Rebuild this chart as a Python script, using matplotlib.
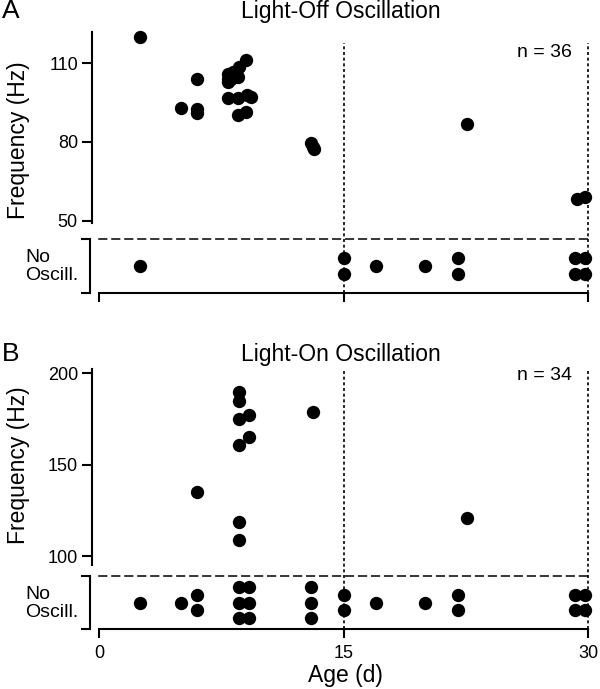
import matplotlib.pyplot as plt
from matplotlib.lines import Line2D
from matplotlib.transforms import blended_transform_factory
from collections import Counter

plt.rcParams['font.family'] = ['Liberation Sans', 'DejaVu Sans']

# Panel A - light-off oscillation (age in days, frequency in Hz)
off_age = [2.5, 5.0, 6.0, 6.0, 6.0,
           7.9, 7.9, 7.9, 8.1, 8.2, 8.5, 8.6, 9.0, 7.9, 8.5, 9.1, 9.3, 8.5, 9.0,
           13.0, 13.1, 13.2, 22.6, 29.3, 29.8]
off_freq = [120, 93, 104, 92.5, 91,
            106, 104, 102.7, 104, 106.5, 104.6, 108.5, 111, 96.6, 96.6, 97.8, 97, 90.2, 91.3,
            79.5, 78, 77.5, 87, 58.5, 59.2]
off_none = [2.5, 15, 15, 17, 20, 22, 22, 29.2, 29.2, 29.8, 29.8]

# Panel B - light-on oscillation
on_age = [6.0, 8.6, 8.6, 8.6, 8.6, 8.6, 8.6, 9.2, 9.2, 13.1, 22.6]
on_freq = [135, 189.6, 184.7, 175, 160.6, 118.6, 109, 177, 165, 178.7, 121]
on_none = [2.5, 5, 6, 6, 8.6, 8.6, 8.6, 9.2, 9.2, 9.2, 13, 13, 13, 15, 15, 17, 20, 22, 22,
           29.2, 29.2, 29.8, 29.8]

age_ticks = [0, 15, 30]
ref_ages = [15, 30]

W, H = 600, 689
fig = plt.figure(figsize=(W / 100, H / 100), dpi=100)


def px_axes(left, top, right, bottom):
    return fig.add_axes([left / W, 1 - bottom / H, (right - left) / W, (bottom - top) / H])


def fy(y):
    return 1 - y / H


def stack(ages, step=0.285):
    counts = Counter(ages)
    seen = Counter()
    ys = []
    for a in ages:
        n = counts[a]
        i = seen[a]
        seen[a] += 1
        ys.append(0.5 + ((n - 1) / 2 - i) * step)
    return ys


def panel(letter, title, n_text, ages, freqs, none_ages, up_box, low_box, ylim, yticks,
          vline_top, show_xlabels, title_y, n_y, ylab_y):
    ax_low = px_axes(*low_box)
    ax_up = px_axes(*up_box)
    for ax in (ax_low, ax_up):
        ax.patch.set_visible(False)
        ax.set_xlim(0, 30)
        ax.tick_params(width=1.5, labelsize=13, color='black')
    # frequency part
    ax_up.plot(ages, freqs, 'o', color='black', ms=9.6, mew=0, clip_on=False, zorder=5)
    ax_up.set_ylim(*ylim)
    ax_up.set_yticks(yticks)
    ax_up.tick_params(axis='y', length=7.2, pad=3)
    ax_up.set_xticks([])
    for s in ('top', 'right', 'bottom'):
        ax_up.spines[s].set_visible(False)
    ax_up.spines['left'].set_linewidth(1.5)
    ax_up.spines['left'].set_position(('outward', 5))

    # no-oscillation strip
    ax_low.plot(none_ages, stack(none_ages), 'o', color='black', ms=9.6, mew=0,
                clip_on=False, zorder=5)
    ax_low.set_ylim(0, 1)
    ax_low.set_yticks([0, 1])
    ax_low.set_yticklabels([])
    ax_low.tick_params(axis='y', length=6.5)
    ax_low.set_xticks(age_ticks)
    ax_low.tick_params(axis='x', length=6.5, pad=5)
    if not show_xlabels:
        ax_low.set_xticklabels([])
    ax_low.spines['right'].set_visible(False)
    ax_low.spines['left'].set_linewidth(1.5)
    ax_low.spines['left'].set_position(('outward', 6.5))
    ax_low.spines['bottom'].set_linewidth(1.5)
    ax_low.spines['top'].set_linewidth(1.1)
    ax_low.spines['top'].set_linestyle((0, (5, 3.5)))

    # dotted reference lines crossing both parts
    blend = blended_transform_factory(ax_low.transData, fig.transFigure)
    for a in ref_ages:
        ax_low.add_line(Line2D([a, a], [fy(low_box[3]), fy(vline_top)], transform=blend,
                               color='black', lw=1.2, ls=(0, (1.8, 1.6)), clip_on=False, zorder=1))

    fig.text(2 / W, fy(title_y), letter, fontsize=19, va='baseline', ha='left')
    fig.text(341 / W, fy(title_y), title, fontsize=16.5, va='baseline', ha='center')
    fig.text(572 / W, fy(n_y), n_text, fontsize=14, va='baseline', ha='right')
    fig.text(19 / W, fy(ylab_y), 'Frequency (Hz)', fontsize=16.5,
             rotation=90, va='center', ha='center')
    fig.text(25 / W, fy(low_box[1] + 23), 'No', fontsize=14, va='baseline', ha='left')
    fig.text(25 / W, fy(low_box[1] + 41), 'Oscill.', fontsize=14, va='baseline', ha='left')
    return ax_low


panel('A', 'Light-Off Oscillation', 'n = 36', off_age, off_freq, off_none,
      (99, 32, 588, 223), (99, 239, 588, 293), (49.2, 121.8), [50, 80, 110], 43, False,
      18, 57, 140)
panel('B', 'Light-On Oscillation', 'n = 34', on_age, on_freq, on_none,
      (99, 369, 588, 565), (99, 576, 588, 629), (95.1, 202.2), [100, 150, 200], 369, True,
      361, 380, 465)
fig.text(345 / W, fy(682), 'Age (d)', fontsize=16.5, va='baseline', ha='center')

fig.savefig('out.png', dpi=100)
